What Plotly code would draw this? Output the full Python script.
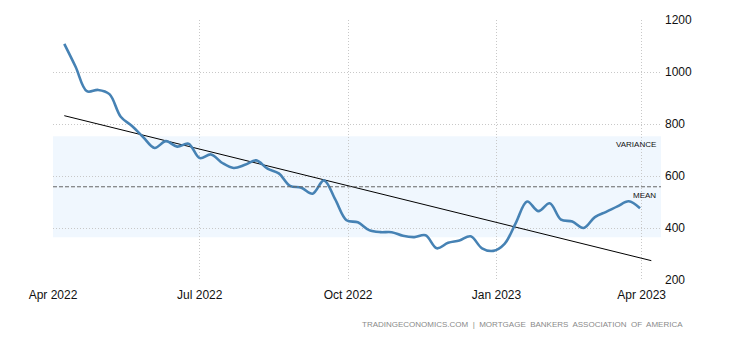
import numpy as np
import pandas as pd
import plotly.graph_objects as go

# Weekly index values (week ending Fridays), Apr 8 2022 - Mar 31 2023
start_date = "2022-04-08"
values = [1108, 1020, 926, 931, 915, 828, 792, 749, 708, 734,
          713, 724, 669, 683, 650, 631, 643, 660, 628, 610,
          562, 555, 532, 583, 510, 430, 422, 392, 384, 384,
          370, 365, 372, 322, 343, 352, 368, 322, 312, 339,
          420, 502, 465, 495, 432, 425, 400, 442, 462, 483,
          503, 476]
tick_dates = ["2022-04-01", "2022-07-01", "2022-10-01", "2023-01-01", "2023-04-01"]
tick_labels = ["Apr 2022", "Jul 2022", "Oct 2022", "Jan 2023", "Apr 2023"]
y_ticks = [200, 400, 600, 800, 1000, 1200]
source_text = "TRADINGECONOMICS.COM  |  MORTGAGE  BANKERS  ASSOCIATION  OF  AMERICA"

dates = pd.date_range(start_date, periods=len(values), freq="7D")
vals = np.array(values, dtype=float)

# statistics derived from the series
mean = vals.mean()
std = vals.std()
idx = np.arange(len(vals))
slope, intercept = np.polyfit(idx, vals, 1)
trend_idx = np.array([0, len(vals)])
trend_dates = pd.date_range(start_date, periods=len(vals) + 1, freq="7D")[[0, -1]]
trend_vals = intercept + slope * trend_idx

fig = go.Figure()

fig.add_shape(type="rect", xref="paper", yref="y", x0=0, x1=1,
              y0=mean - std, y1=mean + std, fillcolor="#f0f7fe",
              line=dict(width=0), layer="below")
fig.add_shape(type="line", xref="paper", yref="y", x0=0, x1=1,
              y0=mean, y1=mean, line=dict(color="#666666", width=1, dash="4px,2px"))

fig.add_trace(go.Scatter(x=trend_dates, y=trend_vals, mode="lines",
                         line=dict(color="#000000", width=1), hoverinfo="skip"))
fig.add_trace(go.Scatter(x=dates, y=vals, mode="lines",
                         line=dict(color="#4682b4", width=2.6, shape="spline", smoothing=1)))

fig.add_annotation(xref="paper", yref="y", x=0.995, y=mean + std - 32, text="VARIANCE",
                   showarrow=False, xanchor="right", yanchor="middle",
                   font=dict(family="Arial", size=8, color="#111111"))
fig.add_annotation(xref="paper", yref="y", x=0.995, y=mean - 32, text="MEAN",
                   showarrow=False, xanchor="right", yanchor="middle",
                   font=dict(family="Arial", size=8, color="#111111"))
fig.add_annotation(xref="paper", yref="paper", x=1.04, y=-0.17, text=source_text,
                   showarrow=False, xanchor="right", yanchor="middle",
                   font=dict(family="Arial", size=8, color="#8a8a8a"))

fig.update_layout(
    width=730, height=340,
    margin=dict(l=53, r=69, t=20, b=60),
    paper_bgcolor="white", plot_bgcolor="white",
    showlegend=False,
    font=dict(family="Arial", size=12, color="#111111"),
)
fig.update_xaxes(
    type="date", range=["2022-04-01", "2023-04-13"],
    tickvals=tick_dates, ticktext=tick_labels,
    showgrid=True, gridcolor="#c8c8c8", griddash="1px,2px", gridwidth=1,
    zeroline=False, showline=False, ticks="", ticklabelstandoff=6,
    tickfont=dict(size=12, color="#111111"),
)
fig.update_yaxes(
    range=[200, 1200], tickvals=y_ticks, side="right",
    showgrid=True, gridcolor="#c8c8c8", griddash="1px,2px", gridwidth=1,
    zeroline=False, showline=False, ticks="", ticklabelstandoff=3,
    tickfont=dict(size=12, color="#111111"),
)

fig.write_html("out.html")
